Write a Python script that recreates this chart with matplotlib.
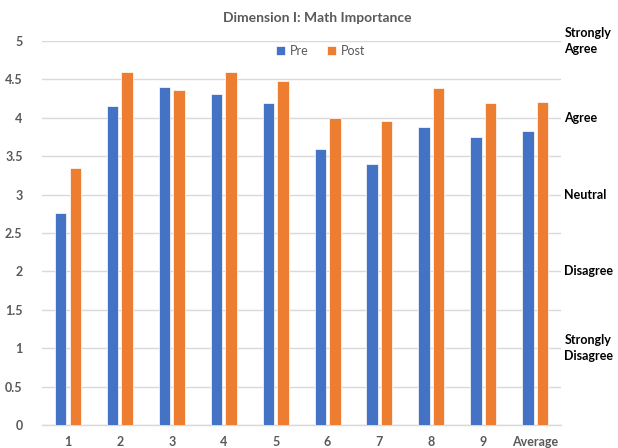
import matplotlib
matplotlib.use("Agg")
import matplotlib.pyplot as plt
import numpy as np

categories = ["1", "2", "3", "4", "5", "6", "7", "8", "9", "Average"]
pre = [2.76, 4.15, 4.40, 4.31, 4.19, 3.59, 3.40, 3.88, 3.75, 3.83]
post = [3.35, 4.59, 4.36, 4.59, 4.48, 4.00, 3.96, 4.39, 4.19, 4.21]
yticks = [0, 0.5, 1, 1.5, 2, 2.5, 3, 3.5, 4, 4.5, 5]
ytick_labels = ["0", "0.5", "1", "1.5", "2", "2.5", "3", "3.5", "4", "4.5", "5"]
scale_labels = ["Strongly\nAgree", "Agree", "Neutral", "Disagree", "Strongly\nDisagree"]
scale_values = [5, 4, 3, 2, 1]

FONT = ["Lato", "DejaVu Sans"]
GRAY = "#595959"

fig = plt.figure(figsize=(6.18, 4.48), dpi=100)
ax = fig.add_axes([0.068, 0.0513, 0.840, 0.8572])

x = np.arange(len(categories))
w = 0.22
gap = 0.06
ax.bar(x - (w + gap) / 2, pre, width=w, color="#4472C4", edgecolor="white", linewidth=0.5, label="Pre", zorder=3)
ax.bar(x + (w + gap) / 2, post, width=w, color="#ED7D31", edgecolor="white", linewidth=0.5, label="Post", zorder=3)

ax.set_xlim(-0.5, len(categories) - 0.5)
ax.set_ylim(0, 5)
ax.set_yticks(yticks)
ax.set_yticklabels(ytick_labels)
ax.set_xticks(x)
ax.set_xticklabels(categories)
for lab in ax.get_xticklabels() + ax.get_yticklabels():
    lab.set_fontfamily(FONT)
    lab.set_fontweight("bold")
    lab.set_fontsize(9)
    lab.set_color(GRAY)
ax.tick_params(axis="both", length=0)
ax.tick_params(axis="y", pad=14)
ax.tick_params(axis="x", pad=8)

ax.grid(axis="y", color="#d9d9d9", linewidth=1, zorder=0)
for s in ["top", "right", "left"]:
    ax.spines[s].set_visible(False)
ax.spines["bottom"].set_color("#d9d9d9")
ax.spines["bottom"].set_linewidth(1)

ax.set_title("Dimension I: Math Importance", fontfamily=FONT, fontweight="bold",
             fontsize=10, color=GRAY, pad=14, x=0.53)

leg = ax.legend(loc="upper center", bbox_to_anchor=(0.537, 1.012), ncol=2, frameon=False,
                prop={"family": FONT, "size": 9}, handlelength=0.7, handleheight=0.7,
                columnspacing=1.5, handletextpad=0.4, borderaxespad=0.3)
for t in leg.get_texts():
    t.set_color(GRAY)

for lab, v in zip(scale_labels, scale_values):
    ax.text(1.006, v, lab, transform=ax.get_yaxis_transform(), ha="left", va="center",
            fontfamily=FONT, fontweight="bold", fontsize=9, color="black", linespacing=1.4)

fig.savefig("out.png", dpi=100)
